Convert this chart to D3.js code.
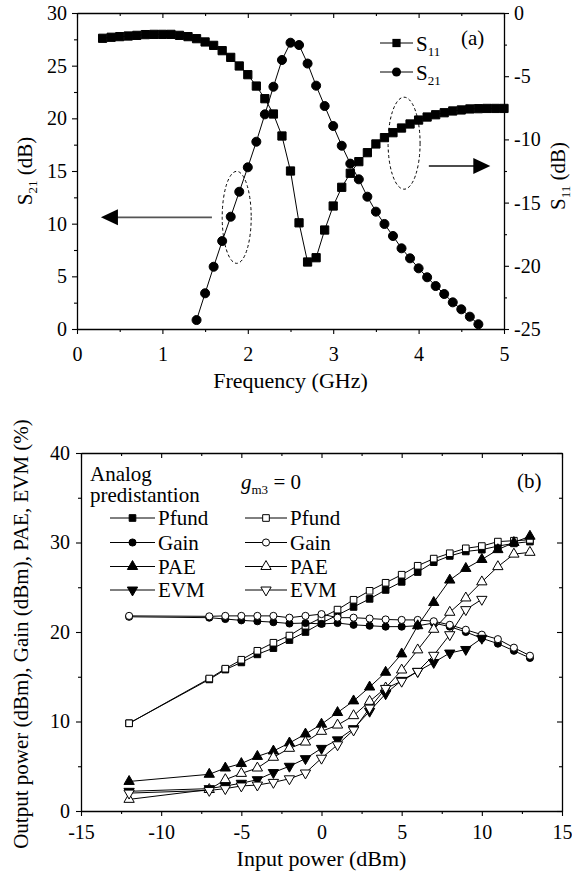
<!DOCTYPE html>
<html>
<head>
<meta charset="utf-8">
<script src="https://cdn.jsdelivr.net/npm/d3@7"></script>
<style>
  body { margin: 0; background: #fff; }
  svg { display: block; }
</style>
</head>
<body>
<div id="vis"></div>
<script>
"use strict";
// ---- panel (a) data: frequency sweeps ----
const freqS11 = [0.3,0.4,0.5,0.6,0.7,0.8,0.9,1.0,1.1,1.2,1.3,1.4,1.5,1.6,1.7,1.8,1.9,2.0,2.1,2.2,2.3,2.4,2.5,2.6,
  2.7,2.8,2.9,3.0,3.1,3.2,3.3,3.4,3.5,3.6,3.7,3.8,3.9,4.0,4.1,4.2,4.3,4.4,4.5,4.6,4.7,4.8,4.9,5.0];
const s11 = [-2.0,-1.92,-1.87,-1.82,-1.77,-1.71,-1.69,-1.69,-1.69,-1.77,-1.87,-2.03,-2.29,-2.56,-2.98,-3.51,
  -4.19,-4.88,-5.78,-6.78,-7.99,-9.73,-12.5,-16.6,-19.7,-19.36,-17.17,-15.27,-13.79,-12.68,-11.76,-11.05,
  -10.36,-9.86,-9.47,-9.10,-8.78,-8.47,-8.23,-8.05,-7.89,-7.75,-7.67,-7.59,-7.57,-7.55,-7.55,-7.55];
const freqS21 = [1.4,1.5,1.6,1.7,1.8,1.9,2.0,2.1,2.2,2.3,2.4,2.5,2.6,2.7,2.8,2.9,3.0,3.1,3.2,3.3,3.4,3.5,
  3.6,3.7,3.8,3.9,4.0,4.1,4.2,4.3,4.4,4.5,4.6,4.7];
const s21 = [0.85,3.39,5.91,8.35,10.66,13.03,15.35,17.78,20.38,23.0,25.54,27.18,26.96,25.2,23.1,21.17,19.27,
  17.4,15.7,14.21,12.56,11.14,9.97,8.83,7.66,6.71,5.76,4.91,4.08,3.32,2.53,1.87,1.17,0.45];
const xTicksA = [0,1,2,3,4,5];
const yTicksAL = [0,5,10,15,20,25,30];
const yTicksAR = [-25,-20,-15,-10,-5,0];

// ---- panel (b) data: input power sweeps ----
const pin = [-12,-7,-6,-5,-4,-3,-2,-1,0,1,2,3,4,5,6,7,8,9,10,11,12,13];
const pinEvm = [-12,-7,-6,-5,-4,-3,-2,-1,0,1,2,3,4,5,6,7,8,9,10];
const pfundPre = [9.8,14.7,15.8,16.6,17.5,18.2,19.1,20.0,21.0,21.9,22.8,23.7,24.7,25.6,26.7,27.8,28.5,29.0,29.2,29.6,29.9,30.1];
const pfundGm3 = [9.8,14.8,15.9,16.9,17.9,18.8,19.6,20.7,21.6,22.5,23.6,24.6,25.5,26.4,27.4,28.2,28.8,29.35,29.6,30.1,30.2,30.3];
const gainPre = [21.7,21.6,21.45,21.3,21.2,21.1,20.95,21.0,20.9,21.0,20.8,20.7,20.6,20.6,20.7,21.0,20.6,20.0,19.3,18.7,17.9,17.1];
const gainGm3 = [21.8,21.75,21.8,21.8,21.8,21.8,21.6,21.8,22.0,21.6,21.6,21.5,21.4,21.35,21.35,21.2,20.8,20.25,19.7,19.2,18.25,17.35];
const paePre = [3.3,4.1,4.8,5.3,6.1,6.7,7.6,8.6,9.7,11.0,12.3,13.85,15.5,17.55,20.7,23.3,25.8,27.1,28.1,29.2,30.0,30.7];
const paeGm3 = [1.3,2.4,3.5,4.2,4.8,6.0,7.0,7.7,8.9,9.6,10.65,12.25,13.75,15.75,18.0,20.3,22.2,23.8,25.6,27.3,28.7,28.9];
const evmPre = [2.2,2.5,2.8,3.1,3.5,4.3,5.0,5.85,7.0,7.95,9.2,11.15,13.1,14.6,15.6,16.6,17.65,18.05,19.3];
const evmGm3 = [2.0,2.3,2.5,2.8,2.9,3.2,3.6,4.25,5.9,7.4,9.05,11.5,13.7,14.5,15.6,17.4,19.7,22.5,23.65];
const legendNames = ["Pfund","Gain","PAE","EVM"];
const xTicksB = [-15,-10,-5,0,5,10,15];
const yTicksB = [0,10,20,30,40];

const SERIF = '"Liberation Serif", "Times New Roman", serif';
const [width, height] = [572, 874];
const svg = d3.select('#vis').append('svg').attr('width', width).attr('height', height)
  .style('font-family', SERIF);

const fmt = d => String(d); // plain hyphen minus like the original
function styleAxis(sel) {
  sel.attr('font-family', null).attr('font-size', null);
  sel.select('.domain').attr('stroke', '#000').attr('stroke-width', 1.3);
  sel.selectAll('.tick line').attr('stroke', '#000').attr('stroke-width', 1.1);
  sel.selectAll('.tick text').style('font-family', SERIF).attr('font-size', 20);
}
// draws one axis + its minor ticks; noLabels -> used for the mirror (top/right) sides
function addAxis(maker, scale, at, major, minor, pad, noLabels) {
  const horiz = maker === d3.axisBottom || maker === d3.axisTop;
  const tr = horiz ? `translate(0,${at})` : `translate(${at},0)`;
  const ax = maker(scale).tickValues(major).tickSize(5).tickPadding(pad).tickSizeOuter(0)
    .tickFormat(noLabels ? '' : fmt);
  svg.append('g').attr('transform', tr).call(ax).call(styleAxis);
  const mi = maker(scale).tickValues(minor).tickSize(3).tickFormat('').tickSizeOuter(0);
  svg.append('g').attr('transform', tr).call(mi).call(styleAxis)
    .select('.domain').remove();
}
function mids(arr) { return d3.range(arr.length - 1).map(i => (arr[i] + arr[i+1]) / 2); }

function drawSeries(x, y, xs, ys, sym, size, filled, rot) {
  const pts = xs.map((d, i) => [x(d), y(ys[i])]);
  svg.append('path').datum(pts)
    .attr('d', d3.line()).attr('fill', 'none').attr('stroke', '#000').attr('stroke-width', 1);
  svg.append('g').selectAll('path').data(pts).join('path')
    .attr('transform', d => `translate(${d[0]},${d[1]}) rotate(${rot || 0})`)
    .attr('d', d3.symbol(sym, size))
    .attr('fill', filled ? '#000' : '#fff')
    .attr('stroke', '#000').attr('stroke-width', 1);
}
function txt(x, y, size) {
  return svg.append('text').attr('x', x).attr('y', y).attr('font-size', size)
    .style('font-family', SERIF).attr('fill', '#000');
}
function subText(g, parts) {
  // parts: [text, isSub]
  let shift = 0;
  parts.forEach(([t, sub]) => {
    const dy = sub ? 5 - shift : -shift;
    shift = sub ? 5 : 0;
    g.append('tspan').attr('dy', dy).attr('font-size', sub ? 13 : null).text(t);
  });
}

// ================= panel (a) =================
const xA = d3.scaleLinear([0, 5], [77, 504]);
const yL = d3.scaleLinear([0, 30], [329, 13]);
const yR = d3.scaleLinear([-25, 0], [329, 13]);

addAxis(d3.axisBottom, xA, yL(0), xTicksA, mids(xTicksA), 13, false);
addAxis(d3.axisBottom, xA, yL(30), xTicksA, mids(xTicksA), 13, true);
addAxis(d3.axisLeft, yL, xA(0), yTicksAL, mids(yTicksAL), 5, false);
addAxis(d3.axisRight, yR, xA(5), yTicksAR, mids(yTicksAR), 5, false);

drawSeries(xA, yR, freqS11, s11, d3.symbolSquare, 68, true);
drawSeries(xA, yL, freqS21, s21, d3.symbolCircle, 64, true);

// dashed ellipses and arrows pointing to each axis
svg.append('ellipse').attr('cx', xA(1.87)).attr('cy', yL(10.6)).attr('rx', 14.5).attr('ry', 46)
  .attr('fill', 'none').attr('stroke', '#000').attr('stroke-dasharray', '3,2.5');
svg.append('ellipse').attr('cx', xA(3.83)).attr('cy', yR(-10.3)).attr('rx', 16).attr('ry', 46)
  .attr('fill', 'none').attr('stroke', '#000').attr('stroke-dasharray', '3,2.5');
function arrow(x1, x2, yy, col) {
  const dir = Math.sign(x2 - x1);
  svg.append('line').attr('x1', x1).attr('x2', x2 - dir * 12).attr('y1', yy).attr('y2', yy)
    .attr('stroke', col).attr('stroke-width', 1.6);
  svg.append('path').attr('d', `M${x2},${yy} L${x2 - dir * 17},${yy - 8} L${x2 - dir * 17},${yy + 8} Z`)
    .attr('fill', '#000');
}
arrow(xA(1.58), xA(0.28), yL(10.6), '#555');
arrow(xA(4.12), xA(4.84), yR(-12.1), '#111');

// legend (a)
[[d3.symbolSquare, 68, "11", 43], [d3.symbolCircle, 64, "21", 72]].forEach(([sym, sz, sub, yy]) => {
  svg.append('line').attr('x1', 380).attr('x2', 413).attr('y1', yy).attr('y2', yy).attr('stroke', '#000');
  svg.append('path').attr('transform', `translate(396.5,${yy})`).attr('d', d3.symbol(sym, sz)).attr('fill', '#000');
  subText(txt(416, yy + 8, 21), [["S", false], [sub, true]]);
});
txt(461, 45, 21).text('(a)');

// axis titles (a)
subText(txt(0, 0, 21).attr('transform', 'translate(32,171) rotate(-90)').attr('text-anchor', 'middle'),
  [["S", false], ["21", true], [" (dB)", false]]);
subText(txt(0, 0, 21).attr('transform', 'translate(565,176) rotate(-90)').attr('text-anchor', 'middle'),
  [["S", false], ["11", true], [" (dB)", false]]);
txt(xA(2.5), 388, 22).attr('text-anchor', 'middle').text('Frequency (GHz)');

// ================= panel (b) =================
const xB = d3.scaleLinear([-15, 15], [81, 562]);
const yB = d3.scaleLinear([0, 40], [811, 453]);

addAxis(d3.axisBottom, xB, yB(0), xTicksB, mids(xTicksB), 9, false);
addAxis(d3.axisBottom, xB, yB(40), xTicksB, mids(xTicksB), 9, true);
addAxis(d3.axisLeft, yB, xB(-15), yTicksB, mids(yTicksB), 6, false);
addAxis(d3.axisLeft, yB, xB(15), yTicksB, mids(yTicksB), 6, true);

const tri = 46;
const seriesB = [
  [pin, pfundPre, d3.symbolSquare, 44, true, 0],
  [pin, pfundGm3, d3.symbolSquare, 44, false, 0],
  [pin, gainPre, d3.symbolCircle, 40, true, 0],
  [pin, gainGm3, d3.symbolCircle, 40, false, 0],
  [pin, paePre, d3.symbolTriangle, tri, true, 0],
  [pin, paeGm3, d3.symbolTriangle, tri, false, 0],
  [pinEvm, evmPre, d3.symbolTriangle, tri, true, 180],
  [pinEvm, evmGm3, d3.symbolTriangle, tri, false, 180]
];
seriesB.forEach(s => drawSeries(xB, yB, s[0], s[1], s[2], s[3], s[4], s[5]));

// legend (b)
txt(90, 481, 21).text('Analog');
txt(90, 502, 21).text('predistantion');
const gm = txt(241, 489, 21);
gm.append('tspan').attr('font-style', 'italic').text('g');
gm.append('tspan').attr('dy', 5).attr('font-size', 13).text('m3');
gm.append('tspan').attr('dy', -5).text(' = 0');
txt(517, 488, 21).text('(b)');

const rowY = [518, 542.5, 566.5, 590];
const cols = [[110, 155, 158], [245, 287, 290]];
seriesB.forEach((s, i) => {
  const [x1, x2, tx] = cols[i % 2];
  const yy = rowY[Math.floor(i / 2)];
  svg.append('line').attr('x1', x1).attr('x2', x2).attr('y1', yy).attr('y2', yy).attr('stroke', '#000');
  svg.append('path').attr('transform', `translate(${(x1 + x2) / 2},${yy}) rotate(${s[5]})`)
    .attr('d', d3.symbol(s[2], s[3])).attr('fill', s[4] ? '#000' : '#fff').attr('stroke', '#000');
  txt(tx, yy + 7, 21).text(legendNames[Math.floor(i / 2)]);
});

// axis titles (b)
txt(0, 0, 21).attr('transform', `translate(28,${(yB(0) + yB(40)) / 2 + 2}) rotate(-90)`)
  .attr('text-anchor', 'middle')
  .text('Output power (dBm), Gain (dBm), PAE, EVM (%)');
txt(xB(0), 866, 22).attr('text-anchor', 'middle').text('Input power (dBm)');
</script>
</body>
</html>
